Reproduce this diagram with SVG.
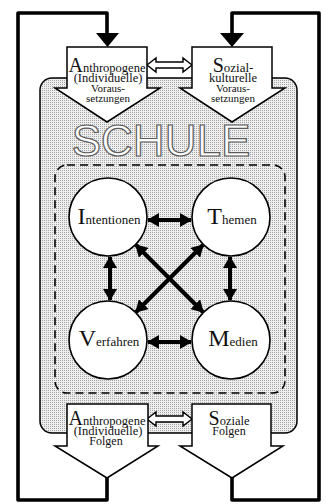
<svg xmlns="http://www.w3.org/2000/svg" width="326" height="504" viewBox="0 0 326 504">
<defs>
<pattern id="dots" width="2" height="2" patternUnits="userSpaceOnUse">
<rect width="2" height="2" fill="#eeeeee"/>
<rect width="1" height="1" fill="#a6a6a6"/>
</pattern>
<marker id="ah" viewBox="0 0 12 14" refX="11" refY="7" markerWidth="12" markerHeight="14" markerUnits="userSpaceOnUse" orient="auto-start-reverse">
<path d="M0,0 L12,7 L0,14 Z" fill="#000"/>
</marker>
</defs>
<style>
.serif{font-family:"Liberation Serif","DejaVu Serif",serif;fill:#111;text-anchor:middle}
.box{fill:#fff;stroke:#000;stroke-width:1.5;stroke-linejoin:miter}
.circ{fill:#fff;stroke:#000;stroke-width:1.6}
.loop{fill:none;stroke:#000;stroke-width:3.6;stroke-linejoin:round}
.thick{stroke:#000;stroke-width:4;fill:none;marker-start:url(#ah);marker-end:url(#ah)}
.hollow{fill:#fff;stroke:#000;stroke-width:1.4;stroke-linejoin:miter}
</style>
<rect width="326" height="504" fill="#fff"/>

<g id="schule">
<rect x="40" y="78" width="257" height="355" rx="12" fill="url(#dots)" stroke="#000" stroke-width="1.5"/>
<text x="161" y="156" font-family="Liberation Sans, Arial, sans-serif" font-size="44" fill="#fff" stroke="#5a5a5a" stroke-width="1.2" text-anchor="middle">SCHULE</text>
<rect x="55" y="165" width="230" height="228" rx="12" fill="none" stroke="#000" stroke-width="1.6" stroke-dasharray="8 5"/>
</g>

<g id="connectors">
<path class="loop" d="M107,478 V500 H18 V13 H107 V34"/>
<path d="M96,33 H119 L107.5,47 Z" fill="#000"/>
<path class="loop" d="M232,478 V500 H319 V13 H232 V34"/>
<path d="M220,33 H244 L232,47 Z" fill="#000"/>
<polygon class="hollow" points="147,65 156,58 156,62 183,62 183,58 192,65 183,72 183,68 156,68 156,72"/>
<polygon class="hollow" points="147,419 156,412 156,416 183,416 183,412 192,419 183,426 183,422 156,422 156,426"/>
<line class="thick" x1="148" y1="220" x2="191" y2="220"/>
<line class="thick" x1="148" y1="342" x2="191" y2="342"/>
<line class="thick" x1="110" y1="257" x2="110" y2="300"/>
<line class="thick" x1="230" y1="257" x2="230" y2="300"/>
<line class="thick" x1="136" y1="245" x2="203" y2="312"/>
<line class="thick" x1="203" y1="245" x2="136" y2="312"/>
</g>

<g id="anthropogene-voraussetzungen">
<polygon class="box" points="67,47 147,47 147,88 160,88 107,122 55,88 67,88"/>
<text class="serif" x="107" y="72"><tspan font-size="20">A</tspan><tspan font-size="12.5">nthropogene</tspan></text>
<text class="serif" x="108" y="82" font-size="12.5">(Individuelle)</text>
<text class="serif" x="108" y="92" font-size="11">Voraus-</text>
<text class="serif" x="108" y="102" font-size="11">setzungen</text>
</g>

<g id="soziokulturelle-voraussetzungen">
<polygon class="box" points="192,47 272,47 272,88 285,88 232,122 180,88 192,88"/>
<text class="serif" x="233" y="72"><tspan font-size="20">S</tspan><tspan font-size="13">ozial-</tspan></text>
<text class="serif" x="233" y="82" font-size="12.5">kulturelle</text>
<text class="serif" x="233" y="92" font-size="11">Voraus-</text>
<text class="serif" x="233" y="102" font-size="11">setzungen</text>
</g>

<g id="intentionen">
<circle class="circ" cx="108" cy="217" r="39"/>
<text class="serif" x="109" y="224"><tspan font-size="24">I</tspan><tspan font-size="13">ntentionen</tspan></text>
</g>
<g id="themen">
<circle class="circ" cx="231" cy="217" r="39"/>
<text class="serif" x="232" y="224"><tspan font-size="24">T</tspan><tspan font-size="13">hemen</tspan></text>
</g>
<g id="verfahren">
<circle class="circ" cx="108" cy="340" r="39"/>
<text class="serif" x="109" y="346"><tspan font-size="24">V</tspan><tspan font-size="13">erfahren</tspan></text>
</g>
<g id="medien">
<circle class="circ" cx="231" cy="340" r="39"/>
<text class="serif" x="233" y="346"><tspan font-size="24">M</tspan><tspan font-size="13">edien</tspan></text>
</g>

<g id="anthropogene-folgen">
<polygon class="box" points="67,404 148,404 148,446 158,446 107,478 55,446 67,446"/>
<text class="serif" x="107" y="425"><tspan font-size="20">A</tspan><tspan font-size="12.5">nthropogene</tspan></text>
<text class="serif" x="108" y="435" font-size="12.5">(Individuelle)</text>
<text class="serif" x="106" y="445" font-size="12">Folgen</text>
</g>

<g id="soziale-folgen">
<polygon class="box" points="192,404 271,404 271,446 283,446 232,478 180,446 192,446"/>
<text class="serif" x="229" y="425"><tspan font-size="20">S</tspan><tspan font-size="12.5">oziale</tspan></text>
<text class="serif" x="229" y="435" font-size="12">Folgen</text>
</g>
</svg>
